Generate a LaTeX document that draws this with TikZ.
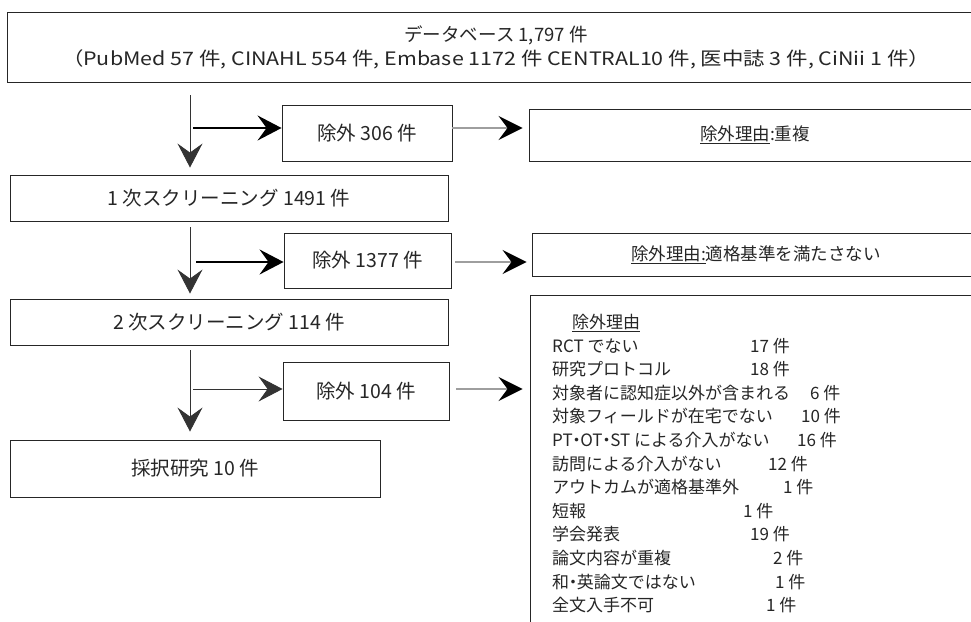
\documentclass[tikz,border=0pt]{standalone}
\usepackage{fontspec}
\usepackage{graphicx}
\setmainfont{Noto Sans CJK JP}
\usetikzlibrary{arrows.meta}
\newcommand{\hdot}{\makebox[0.45em]{・}}
\begin{document}
\begin{tikzpicture}[x=1pt,y=-1pt,
  box/.style={draw=black!85, line width=0.9pt, inner sep=0pt, font=\fontsize{19.5}{22}\selectfont, text=black!85},
  head/.style={-{Stealth[length=24pt,width=25pt,inset=9pt]}},
  vline/.style={head, draw=black!80, line width=0.9pt},
  hthick/.style={head, draw=black, line width=2pt},
  hthin/.style={head, draw=black!80, line width=0.9pt},
  gline/.style={-{Stealth[length=24pt,width=24pt,inset=9pt,color=black]}, draw=black!38, line width=1.5pt},
  lst/.style={anchor=base west, inner sep=0pt, font=\fontsize{17}{20}\selectfont, text=black!85}
]
\useasboundingbox (0,0) rectangle (971,621);
\clip (0,0) rectangle (971,621);
\fill[white] (0,0) rectangle (971,621);

% boxes
\node[box, minimum width=978pt, minimum height=70pt, align=center, font=\fontsize{18.5}{24}\selectfont] (top) at (496,47)
  {データベース 1,797 件\\\resizebox{868pt}{\height}{（PubMed 57 件, CINAHL 554 件, Embase 1172 件 CENTRAL10 件, 医中誌 3 件, CiNii 1 件）}};
\node[box, minimum width=170pt, minimum height=56pt] (ex1) at (367,133) {除外 306 件};
\node[box, minimum width=452pt, minimum height=52pt, font=\fontsize{17.5}{20}\selectfont] (r1) at (755,135) {\underline{除外理由}:重複};
\node[box, minimum width=438pt, minimum height=46pt] (s1) at (229,198) {1 次スクリーニング 1491 件};
\node[box, minimum width=167pt, minimum height=55pt] (ex2) at (367.5,260.5) {除外 1377 件};
\node[box, minimum width=448pt, minimum height=43pt, font=\fontsize{17.5}{20}\selectfont] (r2) at (756,254.5) {\underline{除外理由:}適格基準を満たさない};
\node[box, minimum width=438pt, minimum height=46pt] (s2) at (229,322) {2 次スクリーニング 114 件};
\node[box, minimum width=166pt, minimum height=58pt] (ex3) at (366,391) {除外 104 件};
\node[box, minimum width=470pt, minimum height=360pt] (r3) at (765,475) {};
\node[box, minimum width=370pt, minimum height=57pt] (fin) at (195,468.5) {採択研究 10 件};

% reason list
\node[lst] (l0) at (572,328.5) {\underline{除外理由}};
\node[lst] (l1) at (552,352.1) {RCT でない};        \node[lst] (n1) at (750,352.1) {17 件};
\node[lst] (l2) at (552,375.7) {研究プロトコル};     \node[lst] (n2) at (750,375.7) {18 件};
\node[lst] (l3) at (552,399.3) {対象者に認知症以外が含まれる}; \node[lst] (n3) at (810,399.3) {6 件};
\node[lst] (l4) at (552,422.9) {対象フィールドが在宅でない}; \node[lst] (n4) at (801,422.9) {10 件};
\node[lst] (l5) at (552,446.5) {PT\hdot OT\hdot ST による介入がない}; \node[lst] (n5) at (797,446.5) {16 件};
\node[lst] (l6) at (552,470.1) {訪問による介入がない}; \node[lst] (n6) at (768,470.1) {12 件};
\node[lst] (l7) at (552,493.7) {アウトカムが適格基準外}; \node[lst] (n7) at (783,493.7) {1 件};
\node[lst] (l8) at (552,517.3) {短報};              \node[lst] (n8) at (743,517.3) {1 件};
\node[lst] (l9) at (552,540.9) {学会発表};          \node[lst] (n9) at (750,540.9) {19 件};
\node[lst] (l10) at (552,564.5) {論文内容が重複};    \node[lst] (n10) at (773,564.5) {2 件};
\node[lst] (l11) at (552,588.1) {和\hdot 英論文ではない}; \node[lst] (n11) at (775,588.1) {1 件};
\node[lst] (l12) at (552,611.7) {全文入手不可};      \node[lst] (n12) at (766,611.7) {1 件};

% helper coordinates
\coordinate (v) at (190,0);
\coordinate (h1) at (193,128);
\coordinate (h2) at (196,262);
\coordinate (h3) at (193,389);

% vertical arrows
\draw[vline, shorten <=13pt, shorten >=7pt] (top.south -| v) -- (s1.north -| v);
\draw[vline, shorten <=6pt, shorten >=5pt] (s1.south -| v) -- (s2.north -| v);
\draw[vline, shorten <=5pt, shorten >=8pt] (s2.south -| v) -- (fin.north -| v);

% horizontal arrows
\draw[hthick] (h1) -- (ex1.west |- h1);
\draw[hthick] (h2) -- (ex2.west |- h2);
\draw[hthin] (h3) -- (ex3.west |- h3);

% gray arrows
\draw[gline, shorten >=6pt] (ex1.east |- h1) -- (r1.west |- h1);
\draw[gline, shorten <=4pt, shorten >=5pt] (ex2.east |- h2) -- (r2.west |- h2);
\draw[gline, shorten <=7pt, shorten >=7pt] (ex3.east |- h3) -- (r3.west |- h3);
\end{tikzpicture}
\end{document}
